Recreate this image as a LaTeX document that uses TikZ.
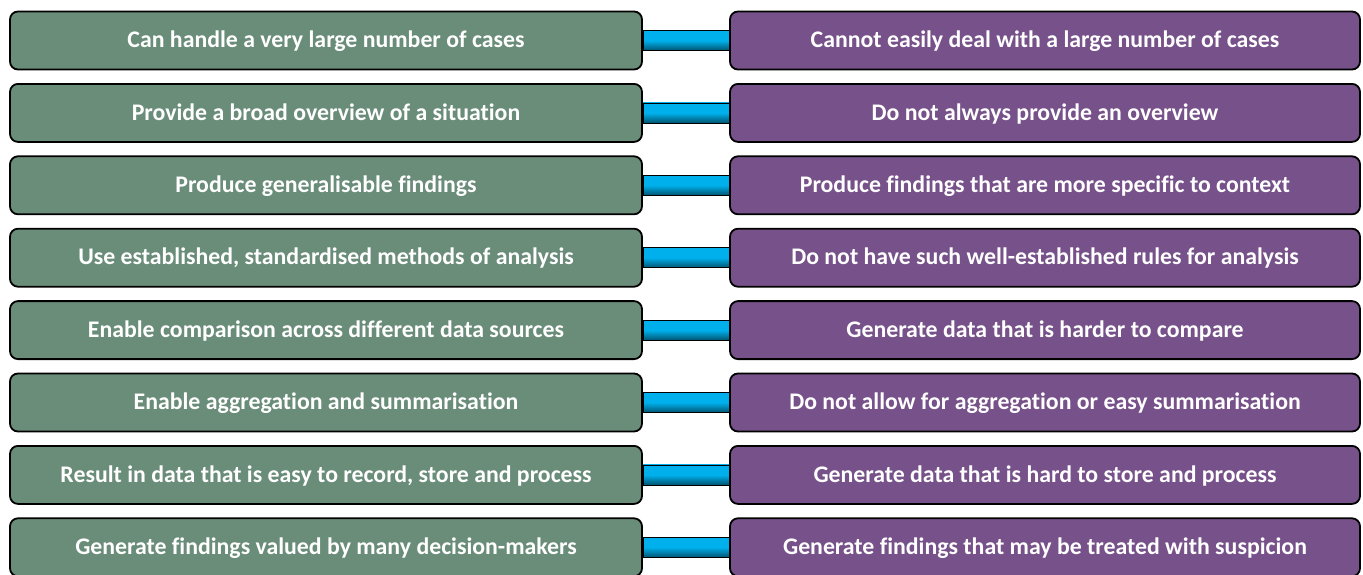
\documentclass[tikz,border=0pt]{standalone}
\usepackage{fontspec}
\setmainfont[Ligatures=NoCommon]{Carlito}
\usetikzlibrary{calc,backgrounds}

\definecolor{quantgreen}{RGB}{106,141,122}
\definecolor{qualpurple}{RGB}{119,81,138}
\definecolor{linkcyan}{RGB}{0,176,236}
\definecolor{linkdark}{RGB}{0,84,112}

\begin{document}
\begin{tikzpicture}[x=1pt,y=-1pt]
    \tikzset{
        card/.style={draw=black, line width=1.8pt, rounded corners=8pt,
            minimum height=58pt, inner sep=0pt, text=white,
            text height=14.5pt, text depth=0pt,
            font=\fontsize{23.8}{28}\selectfont\bfseries},
        quant/.style={card, fill=quantgreen, minimum width=632pt},
        qual/.style={card, fill=qualpurple, minimum width=630pt},
        link/.style={draw=black, line width=0.8pt, top color=linkcyan, bottom color=linkdark, middle color=linkcyan},
    }
    \useasboundingbox (0,0) rectangle (1363,574);
    % one row per pair of statements
    \foreach \i/\lt/\rt in {
        1/{Can handle a very large number of cases}/{Cannot easily deal with a large number of cases},
        2/{Provide a broad overview of a situation}/{Do not always provide an overview},
        3/{Produce generalisable findings}/{Produce findings that are more specific to context},
        4/{Use established, standardised methods of analysis}/{Do not have such well-established rules for analysis},
        5/{Enable comparison across different data sources}/{Generate data that is harder to compare},
        6/{Enable aggregation and summarisation}/{Do not allow for aggregation or easy summarisation},
        7/{Result in data that is easy to record, store and process}/{Generate data that is hard to store and process},
        8/{Generate findings valued by many decision-makers}/{Generate findings that may be treated with suspicion}}
    {
        \pgfmathsetmacro\rowy{40.5+(\i-1)*72.4}
        \node[quant] (L\i) at (326,\rowy) {\lt};
        \node[qual] (R\i) at (1045,\rowy) {\rt};
        \begin{pgfonlayer}{background}
            \path[link] ($(L\i.east)+(0,-10)$) rectangle ($(R\i.west)+(0,10)$);
        \end{pgfonlayer}
    }
\end{tikzpicture}
\end{document}
